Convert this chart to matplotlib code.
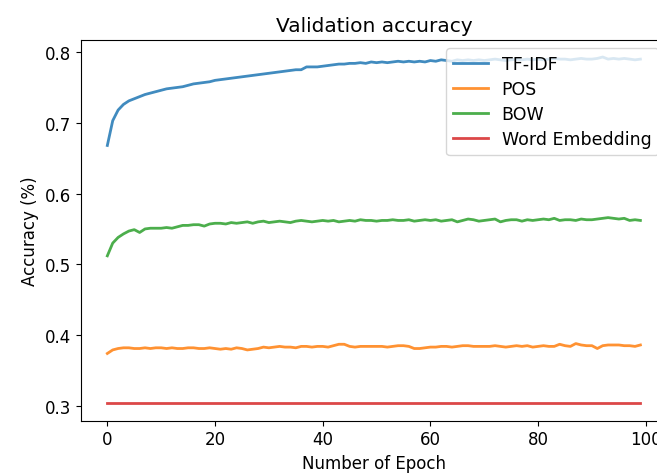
import numpy as np
import matplotlib
matplotlib.use("Agg")
import matplotlib.pyplot as plt

# Valores (acurácia de validação por época)
epocas = list(range(100))

tfidf = [
    0.668, 0.703, 0.718, 0.726, 0.731, 0.734, 0.737, 0.740, 0.742, 0.744,
    0.746, 0.748, 0.749, 0.750, 0.751, 0.753, 0.755, 0.756, 0.757, 0.758,
    0.760, 0.761, 0.762, 0.763, 0.764, 0.765, 0.766, 0.767, 0.768, 0.769,
    0.770, 0.771, 0.772, 0.773, 0.774, 0.775, 0.775, 0.779, 0.779, 0.779,
    0.780, 0.781, 0.782, 0.783, 0.783, 0.784, 0.784, 0.785, 0.784, 0.786,
    0.785, 0.786, 0.785, 0.786, 0.787, 0.786, 0.787, 0.786, 0.787, 0.786,
    0.788, 0.787, 0.789, 0.788, 0.787, 0.789, 0.788, 0.789, 0.788, 0.789,
    0.788, 0.789, 0.790, 0.789, 0.788, 0.789, 0.790, 0.789, 0.790, 0.789,
    0.790, 0.789, 0.790, 0.791, 0.790, 0.790, 0.789, 0.790, 0.791, 0.790,
    0.790, 0.791, 0.793, 0.790, 0.791, 0.790, 0.791, 0.790, 0.789, 0.790,
]

pos = [
    0.374, 0.379, 0.381, 0.382, 0.382, 0.381, 0.381, 0.382, 0.381, 0.382,
    0.382, 0.381, 0.382, 0.381, 0.381, 0.382, 0.382, 0.381, 0.381, 0.382,
    0.381, 0.380, 0.381, 0.380, 0.382, 0.381, 0.379, 0.380, 0.381, 0.383,
    0.382, 0.383, 0.384, 0.383, 0.383, 0.382, 0.384, 0.384, 0.383, 0.384,
    0.384, 0.383, 0.385, 0.387, 0.387, 0.384, 0.383, 0.384, 0.384, 0.384,
    0.384, 0.384, 0.383, 0.384, 0.385, 0.385, 0.384, 0.381, 0.381, 0.382,
    0.383, 0.383, 0.384, 0.384, 0.383, 0.384, 0.385, 0.385, 0.384, 0.384,
    0.384, 0.384, 0.385, 0.384, 0.383, 0.384, 0.385, 0.384, 0.385, 0.383,
    0.384, 0.385, 0.384, 0.384, 0.387, 0.385, 0.384, 0.388, 0.386, 0.385,
    0.385, 0.381, 0.385, 0.386, 0.386, 0.386, 0.385, 0.385, 0.384, 0.386,
]

bow = [
    0.512, 0.530, 0.538, 0.543, 0.547, 0.549, 0.545, 0.550, 0.551, 0.551,
    0.551, 0.552, 0.551, 0.553, 0.555, 0.555, 0.556, 0.556, 0.554, 0.557,
    0.558, 0.558, 0.557, 0.559, 0.558, 0.559, 0.560, 0.558, 0.560, 0.561,
    0.559, 0.560, 0.561, 0.560, 0.559, 0.561, 0.562, 0.561, 0.560, 0.561,
    0.562, 0.561, 0.562, 0.560, 0.561, 0.562, 0.561, 0.563, 0.562, 0.562,
    0.561, 0.562, 0.562, 0.563, 0.562, 0.562, 0.563, 0.561, 0.562, 0.563,
    0.562, 0.563, 0.561, 0.562, 0.563, 0.560, 0.562, 0.564, 0.563, 0.561,
    0.562, 0.563, 0.564, 0.560, 0.562, 0.563, 0.563, 0.561, 0.563, 0.562,
    0.563, 0.564, 0.563, 0.565, 0.562, 0.563, 0.563, 0.562, 0.564, 0.563,
    0.563, 0.564, 0.565, 0.566, 0.565, 0.564, 0.565, 0.562, 0.563, 0.562,
]

word_embedding = [0.3035] * 100

series = [
    ("TF-IDF", tfidf),
    ("POS", pos),
    ("BOW", bow),
    ("Word Embedding", word_embedding),
]

plt.rcParams["font.size"] = 12

fig = plt.figure(figsize=(6.57, 4.77), dpi=100)
# o eixo passa um pouco da borda direita, como no original recortado
ax = fig.add_axes([0.1228, 0.116, 0.8925, 0.7987])

for nome, valores in series:
    ax.plot(epocas, valores, label=nome, linewidth=2, alpha=0.85)

ax.set_title("Validation accuracy", fontsize=14.5)
ax.set_xlabel("Number of Epoch")
ax.set_ylabel("Accuracy (%)")
ax.set_xticks([0, 20, 40, 60, 80, 100])
ax.set_yticks([0.3, 0.4, 0.5, 0.6, 0.7, 0.8])
ax.legend(loc="upper right", fontsize=12.5, labelspacing=0.4)

fig.savefig("out.png", dpi=100)
